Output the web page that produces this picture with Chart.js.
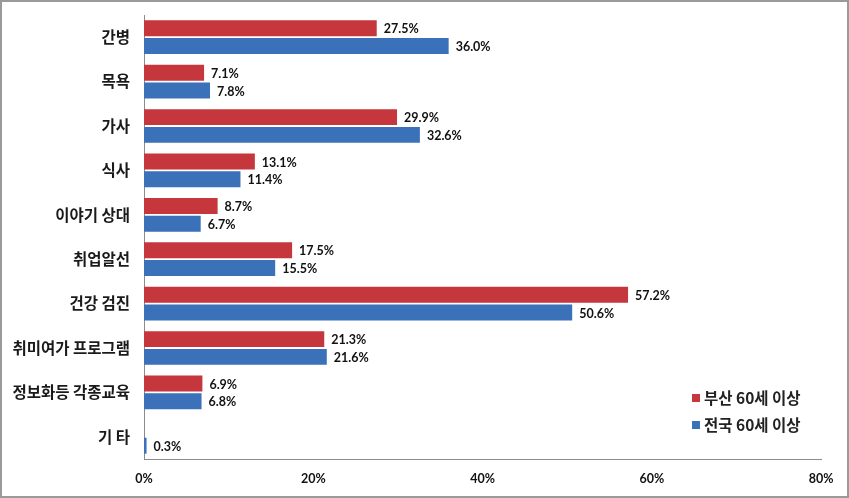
<!DOCTYPE html>
<html>
<head>
<meta charset="utf-8">
<script src="https://cdn.jsdelivr.net/npm/chart.js@4/dist/chart.umd.min.js"></script>
<style>
html,body{margin:0;padding:0;background:#fff;}
#wrap{width:849px;height:498px;position:relative;}
</style>
</head>
<body>
<div id="wrap"><canvas id="c" width="849" height="498"></canvas></div>
<script>
const categories = ['간병','목욕','가사','식사','이야기 상대','취업알선','건강 검진','취미여가 프로그램','정보화등 각종교육','기 타'];
const busanValues = [27.5, 7.1, 29.9, 13.1, 8.7, 17.5, 57.2, 21.3, 6.9, null];
const nationValues = [36.0, 7.8, 32.6, 11.4, 6.7, 15.5, 50.6, 21.6, 6.8, 0.3];
const seriesNames = ['부산 60세 이상', '전국 60세 이상'];
const xTicks = [0, 20, 40, 60, 80];

const RED = '#C5363D';
const BLUE = '#3A71B8';

const labelPlugin = {
  id: 'valueLabels',
  afterDatasetsDraw(chart) {
    const ctx = chart.ctx;
    ctx.save();
    ctx.font = 'bold 12.5px Lato, "Open Sans", sans-serif';
    ctx.fillStyle = '#111';
    ctx.textAlign = 'left';
    ctx.textBaseline = 'middle';
    chart.data.datasets.forEach((ds, di) => {
      const meta = chart.getDatasetMeta(di);
      meta.data.forEach((bar, i) => {
        const v = ds.data[i];
        if (v === null || v === undefined) return;
        ctx.fillText(v.toFixed(1) + '%', bar.x + 7, bar.y + 1);
      });
    });
    ctx.restore();
  }
};

const legendBorderPlugin = {
  id: 'customLegendBorder',
  afterDraw(chart) {
    const ctx = chart.ctx;
    ctx.save();
    ctx.font = 'bold 15.5px "Noto Sans CJK KR", sans-serif';
    ctx.textBaseline = 'middle';
    ctx.textAlign = 'left';
    const ys = [398, 425];
    chart.data.datasets.forEach((ds, di) => {
      ctx.fillStyle = ds.backgroundColor;
      ctx.fillRect(692, ys[di] - 4, 8, 8);
      ctx.fillStyle = '#222';
      ctx.fillText(ds.label, 704, ys[di]);
    });
    ctx.strokeStyle = '#9a9a9a';
    ctx.lineWidth = 2;
    ctx.strokeRect(1, 1, chart.width - 2, chart.height - 2);
    ctx.restore();
  }
};

new Chart(document.getElementById('c'), {
  type: 'bar',
  data: {
    labels: categories,
    datasets: [
      { label: seriesNames[0], data: busanValues, backgroundColor: RED, barPercentage: 0.9, categoryPercentage: 0.8 },
      { label: seriesNames[1], data: nationValues, backgroundColor: BLUE, barPercentage: 0.9, categoryPercentage: 0.8 }
    ]
  },
  options: {
    indexAxis: 'y',
    responsive: false,
    animation: false,
    layout: { padding: { left: 0, right: 28, top: 15, bottom: 0 } },
    plugins: { legend: { display: false }, tooltip: { enabled: false } },
    scales: {
      x: {
        min: 0, max: 80,
        afterBuildTicks(axis) { axis.ticks = xTicks.map(v => ({ value: v })); },
        grid: { display: false, drawTicks: false },
        border: { display: true, color: '#8c8c8c', width: 1 },
        ticks: {
          padding: 12,
          color: '#111',
          font: { family: 'Lato, "Open Sans", sans-serif', size: 12.5, weight: 'bold' },
          callback: v => v + '%'
        },
        afterFit(axis) { axis.height = 39; }
      },
      y: {
        grid: { display: false, drawTicks: false },
        border: { display: true, color: '#8c8c8c', width: 1 },
        ticks: {
          padding: 14,
          color: '#1a1a1a',
          font: { family: '"Noto Sans CJK KR", sans-serif', size: 15.5, weight: 'bold' }
        },
        afterFit(axis) { axis.width = 144; axis.paddingTop = 0; axis.paddingBottom = 0; }
      }
    }
  },
  plugins: [labelPlugin, legendBorderPlugin]
});
</script>
</body>
</html>
